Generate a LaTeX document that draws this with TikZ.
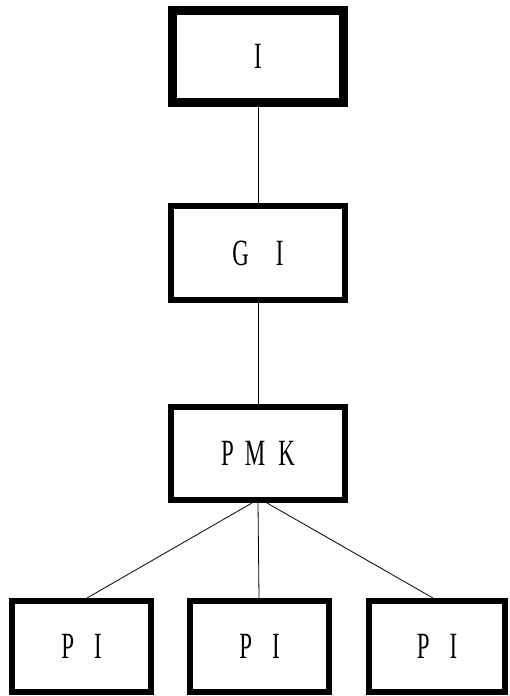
\documentclass[tikz,border=0pt]{standalone}
\usepackage{fontspec}
\setmainfont{Liberation Serif}[FakeStretch=0.62]
\begin{document}
\begin{tikzpicture}[x=1pt,y=-1pt,
  box/.style={draw=black,line width=6pt,fill=white,minimum height=91pt,inner sep=0pt,
    font=\fontsize{37}{37}\selectfont},
  topbox/.style={box,line width=9pt},
  conn/.style={draw=black,line width=0.8pt}]
\useasboundingbox[fill=white] (0,0) rectangle (509,696);
\node[topbox,minimum width=171pt,minimum height=92pt] (i) at (258,56.5) {I};
\node[box,minimum width=174pt,minimum height=94pt] (gi) at (258,253) {G\hspace{27pt}I\hspace{-2pt}};
\node[box,minimum width=174pt,minimum height=93pt] (pmk) at (258,453.5) {P\hspace{11pt}M\hspace{13pt}K\hspace{18pt}};
\node[box,minimum width=139pt] (p1) at (81.5,646.5) {P\hspace{20pt}I};
\node[box,minimum width=139pt] (p2) at (259.5,646.5) {P\hspace{20pt}I};
\node[box,minimum width=136pt] (p3) at (437,646.5) {P\hspace{20pt}I};
\draw[conn] (i.south) -- (gi.north);
\draw[conn] (gi.south) -- (pmk.north);
\draw[conn] ([xshift=-6pt]pmk.south) -- ([xshift=5.5pt]p1.north);
\draw[conn] (pmk.south) -- ([xshift=-0.5pt]p2.north);
\draw[conn] ([xshift=9pt]pmk.south) -- ([xshift=-4pt]p3.north);
\end{tikzpicture}
\end{document}
